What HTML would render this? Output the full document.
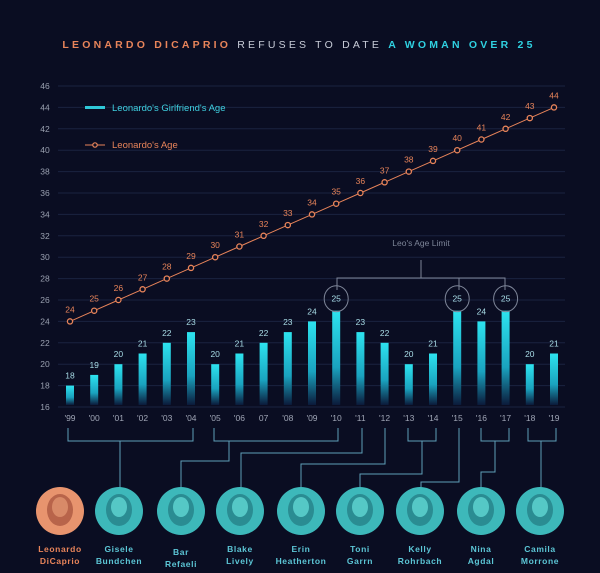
<!DOCTYPE html>
<html><head><meta charset="utf-8"><style>
html,body{margin:0;padding:0;background:#0a0d22;}
svg{display:block;font-family:"Liberation Sans",sans-serif;}
</style></head><body>
<svg id="s" width="600" height="573" viewBox="0 0 600 573" xmlns="http://www.w3.org/2000/svg">
<defs>
<linearGradient id="bg" x1="0" y1="0" x2="0" y2="1"><stop offset="0" stop-color="#2de3ef"/><stop offset="0.6" stop-color="#1aa3bf"/><stop offset="1" stop-color="#0b1a3a"/></linearGradient>
</defs>
<rect width="600" height="573" fill="#0a0d22"/>
<text x="299" y="48" text-anchor="middle" font-size="10.5" font-weight="bold" letter-spacing="3.2"><tspan fill="#e8845a">LEONARDO DICAPRIO</tspan><tspan fill="#c8ccd8" font-weight="normal"> REFUSES TO DATE </tspan><tspan fill="#2fd0e0">A WOMAN OVER 25</tspan></text>
<g id="g"></g>
<rect x="85" y="106" width="20" height="3" fill="#2fc8d8"/>
<text x="112" y="111" font-size="9.5" fill="#3fd0e0">Leonardo's Girlfriend's Age</text>
<line x1="85" y1="145" x2="105" y2="145" stroke="#e8845a" stroke-width="1"/>
<circle cx="95" cy="145" r="2.2" fill="#0a0d22" stroke="#e8845a" stroke-width="1.2"/>
<text x="112" y="148" font-size="9.5" fill="#e8845a">Leonardo's Age</text>
<text x="421" y="246" text-anchor="middle" font-size="8.5" fill="#7d8598">Leo's Age Limit</text>
<g stroke="#7d8598" fill="none" stroke-width="1">
<path d="M421 260V278M337 290V278H505V290M459 278V290"/>
</g>
</svg>
<script>
var g=document.getElementById('g'),h='';
function X(i){return 70+24.2*i}
function Y(v){return 407-10.7*(v-16)}
for(var v=16;v<=46;v+=2){var y=Y(v);h+='<line x1="58" y1="'+y+'" x2="565" y2="'+y+'" stroke="#1b2340" stroke-width="1"/>';h+='<text x="45" y="'+(y+3)+'" text-anchor="middle" font-size="8.5" fill="#9aa0b0">'+v+'</text>';}
var vals=[18,19,20,21,22,23,20,21,22,23,24,25,23,22,20,21,25,24,25,20,21];
var yrs=["'99","'00","'01","'02","'03","'04","'05","'06","07","'08","'09","'10","'11","'12","'13","'14","'15","'16","'17","'18","'19"];
for(var i=0;i<21;i++){var x=X(i),y=Y(vals[i]);
h+='<rect x="'+(x-4)+'" y="'+y+'" width="8" height="'+(405-y)+'" fill="url(#bg)"/>';
var ly=y-7;
if(vals[i]==25){h+='<ellipse cx="'+x+'" cy="'+(y-12)+'" rx="12" ry="13" fill="none" stroke="#7d8598"/>';ly=y-9;}
h+='<text x="'+x+'" y="'+ly+'" text-anchor="middle" font-size="8.5" fill="#a8dce6">'+vals[i]+'</text>';
h+='<text x="'+x+'" y="'+421+'" text-anchor="middle" font-size="8.5" fill="#a0a6b6">'+yrs[i]+'</text>';}
var pts=[];for(var i=0;i<21;i++)pts.push(X(i)+','+Y(24+i));
h+='<polyline points="'+pts.join(' ')+'" fill="none" stroke="#e8845a" stroke-width="1"/>';
for(var i=0;i<21;i++){h+='<circle cx="'+X(i)+'" cy="'+Y(24+i)+'" r="2.6" fill="#0a0d22" stroke="#e8845a" stroke-width="1.3"/>';
h+='<text x="'+X(i)+'" y="'+(Y(24+i)-9)+'" text-anchor="middle" font-size="8.5" fill="#e8845a">'+(24+i)+'</text>';}
var c='#5f9fb8',p='';
p+='M68 428V441H193V428M120 441V488';
p+='M214 428V441H338V428M229 441V461H181V488';
p+='M362 428V453H241V488';
p+='M385 428V464H301V488';
p+='M408 428V441H436V428M422 441V474H360V488';
p+='M459 428V482H421V488';
p+='M481 428V441H509V428M495 441V472H481V488';
p+='M528 428V441H556V428M541 441V488';
h+='<path d="'+p+'" stroke="'+c+'" fill="none" stroke-width="1"/>';
var px=[60,119,181,240,301,360,420,481,540];
var n1=["Leonardo","Gisele","Bar","Blake","Erin","Toni","Kelly","Nina","Camila"];
var n2=["DiCaprio","Bundchen","Refaeli","Lively","Heatherton","Garrn","Rohrbach","Agdal","Morrone"];
for(var k=0;k<9;k++){var x=px[k],o=k==0;
h+='<ellipse cx="'+x+'" cy="511" rx="24" ry="24" fill="'+(o?'#e8946e':'#3db8ba')+'"/>';
h+='<ellipse cx="'+x+'" cy="510" rx="13" ry="16" fill="'+(o?'#b8644a':'#2a8c92')+'"/>';
h+='<ellipse cx="'+x+'" cy="507" rx="8" ry="10" fill="'+(o?'#d88a68':'#55c8c6')+'"/>';
var f=o?'#e8845a':'#5cc6d6';var dy=(k==2)?3:0;
h+='<text x="'+x+'" y="'+(552+dy)+'" text-anchor="middle" font-size="8.5" font-weight="bold" letter-spacing="0.6" fill="'+f+'">'+n1[k]+'</text>';
h+='<text x="'+x+'" y="'+(564+dy)+'" text-anchor="middle" font-size="8.5" font-weight="bold" letter-spacing="0.6" fill="'+f+'">'+n2[k]+'</text>';}
g.innerHTML=h;
</script>
</body></html>
